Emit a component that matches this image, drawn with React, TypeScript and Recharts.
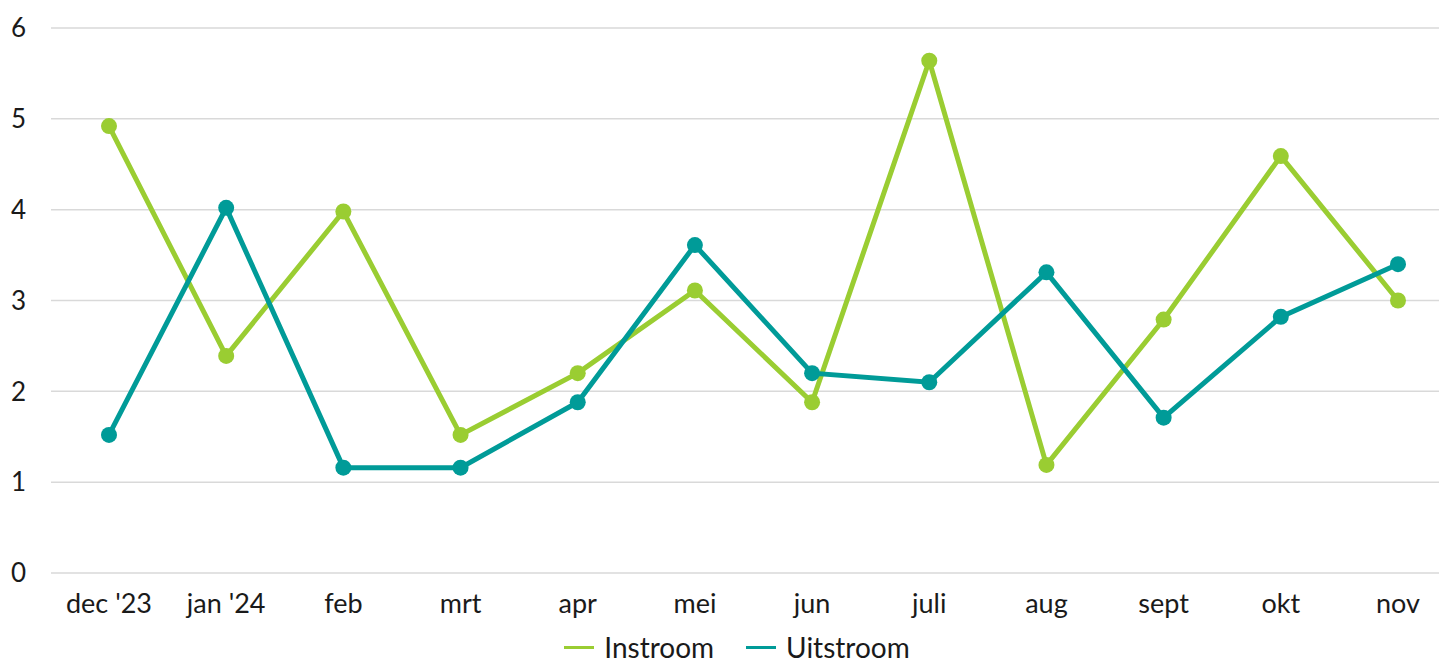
import { CartesianGrid, Legend, Line, LineChart, XAxis, YAxis } from 'recharts'

const months = ["dec '23", "jan '24", 'feb', 'mrt', 'apr', 'mei', 'jun', 'juli', 'aug', 'sept', 'okt', 'nov']
const instroom = [4.92, 2.39, 3.98, 1.52, 2.2, 3.11, 1.88, 5.64, 1.19, 2.79, 4.59, 3.0]
const uitstroom = [1.52, 4.02, 1.16, 1.16, 1.88, 3.61, 2.2, 2.1, 3.31, 1.71, 2.82, 3.4]
const yTicks = [0, 1, 2, 3, 4, 5, 6]

const GREEN = '#9acd32'
const TEAL = '#009b98'
const FONT = 'Lato, "Open Sans", sans-serif'

const data = months.map((m, i) => ({ month: m, Instroom: instroom[i], Uitstroom: uitstroom[i] }))

function LegendBox() {
  const items = [
    { name: 'Instroom', color: GREEN },
    { name: 'Uitstroom', color: TEAL },
  ]
  return (
    <div style={{ height: 32, display: 'flex', justifyContent: 'center', alignItems: 'flex-start', gap: 32, fontFamily: FONT, fontSize: 28, lineHeight: '32px', color: '#1a1a1a', paddingLeft: 10 }}>
      {items.map((it) => (
        <span key={it.name} style={{ display: 'flex', alignItems: 'center', gap: 10 }}>
          <span style={{ display: 'inline-block', width: 30, height: 3, background: it.color }} />
          {it.name}
        </span>
      ))}
    </div>
  )
}

export default function App() {
  return (
    <div style={{ width: 1439, height: 655, overflow: 'hidden' }}>
      <LineChart width={1450} height={655} data={data} margin={{ top: 20, right: 2, left: 0, bottom: 0 }}>
        <CartesianGrid vertical={false} stroke="#d9d9d9" strokeWidth={1.5} />
        <XAxis
          dataKey="month"
          axisLine={false}
          tickLine={false}
          tickSize={0}
          tickMargin={21}
          height={58}
          interval={0}
          padding={{ left: 58, right: 58 }}
          tick={{ fill: '#1a1a1a', fontSize: 27, fontFamily: FONT }}
        />
        <YAxis
          domain={[0, 6]}
          ticks={yTicks}
          axisLine={false}
          tickLine={false}
          tickSize={0}
          tickMargin={25}
          width={43}
          tick={{ fill: '#1a1a1a', fontSize: 26, fontFamily: FONT }}
        />
        <Legend verticalAlign="bottom" content={<LegendBox />} />
        <Line dataKey="Instroom" stroke={GREEN} strokeWidth={5} dot={{ r: 8, fill: GREEN, stroke: GREEN, strokeWidth: 0 }} activeDot={false} isAnimationActive={false} />
        <Line dataKey="Uitstroom" stroke={TEAL} strokeWidth={5} dot={{ r: 8, fill: TEAL, stroke: TEAL, strokeWidth: 0 }} activeDot={false} isAnimationActive={false} />
      </LineChart>
    </div>
  )
}
